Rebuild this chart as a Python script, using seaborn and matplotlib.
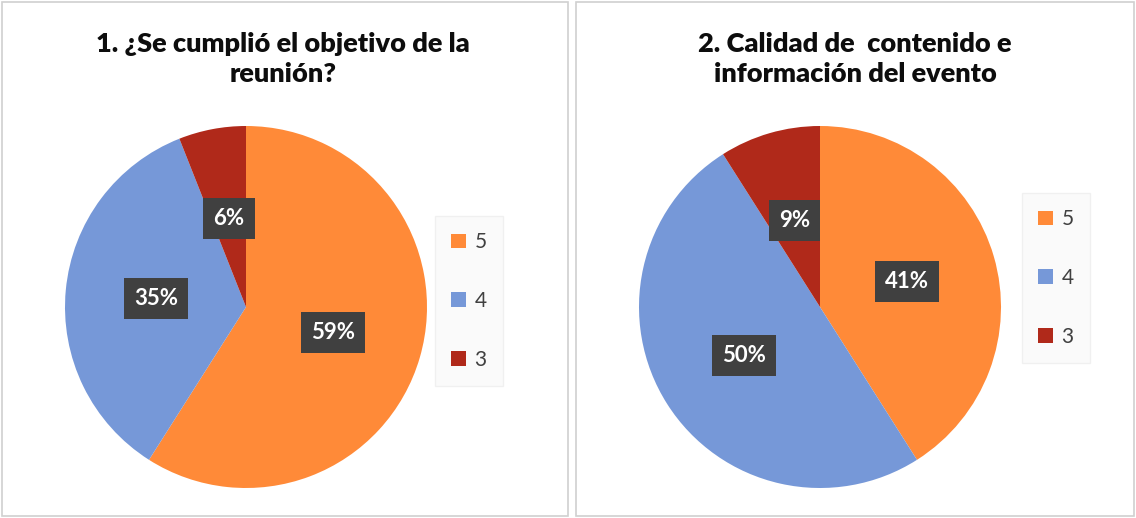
import matplotlib
matplotlib.use("Agg")
import matplotlib.pyplot as plt
import seaborn as sns
from matplotlib.patches import Rectangle, Patch

categories = ["5", "4", "3"]
q1_values = [59, 35, 6]
q2_values = [41, 50, 9]
titles = ["1. ¿Se cumplió el objetivo de la\nreunión?",
          "2. Calidad de  contenido e\ninformación del evento"]

sns.set_theme(style="white")
plt.rcParams['font.family'] = ['Lato', 'DejaVu Sans']
colors = sns.color_palette(["#FF8A38", "#7698D8", "#B0291A"])

W, H = 1136, 518
fig = plt.figure(figsize=(W / 100, H / 100), dpi=100)
fig.patch.set_facecolor("white")

# panel frames
for x0, x1 in [(2, 568), (576, 1134)]:
    fig.add_artist(Rectangle((x0 / W, 2 / H), (x1 - x0) / W, (H - 4) / H,
                             transform=fig.transFigure, fill=False,
                             edgecolor="#d0d0d0", linewidth=1.2))

panels = [
    dict(vals=q1_values, cx=246, cy=307, r=181, tx=283, leg=(469, 301)),
    dict(vals=q2_values, cx=820, cy=307, r=181, tx=855, leg=(1056, 278)),
]

for p, title in zip(panels, titles):
    ax = fig.add_axes([(p['cx'] - p['r']) / W, (H - p['cy'] - p['r']) / H,
                       2 * p['r'] / W, 2 * p['r'] / H])
    wedges, _, autotexts = ax.pie(
        p['vals'], colors=colors, startangle=90, counterclock=False,
        autopct=lambda v: f"{v:.0f}%", pctdistance=0.5,
        wedgeprops=dict(linewidth=0))
    for t in autotexts:
        t.set_color("white")
        t.set_fontweight("bold")
        t.set_fontsize(16)
        t.set_bbox(dict(boxstyle="square,pad=0.45", facecolor="#404040",
                        edgecolor="none"))
    ax.set_xlim(-1, 1)
    ax.set_ylim(-1, 1)
    ax.axis("off")

    fig.text(p['tx'] / W, 1 - 59 / H, title, ha="center", va="center",
             fontsize=19.5, fontweight="heavy", color="#0d0d0d",
             linespacing=1.35)

    handles = [Patch(facecolor=c, edgecolor="none") for c in colors]
    leg = fig.legend(handles, categories, loc="center",
                     bbox_to_anchor=(p['leg'][0] / W, 1 - p['leg'][1] / H),
                     frameon=True, fontsize=15, labelspacing=1.85,
                     handlelength=0.7, handleheight=0.7, handletextpad=0.4,
                     borderpad=0.8, fancybox=False)
    leg.get_frame().set_facecolor("#f9f9f9")
    leg.get_frame().set_edgecolor("#eeeeee")
    for t in leg.get_texts():
        t.set_color("#404040")

fig.savefig("out.png", dpi=100)
